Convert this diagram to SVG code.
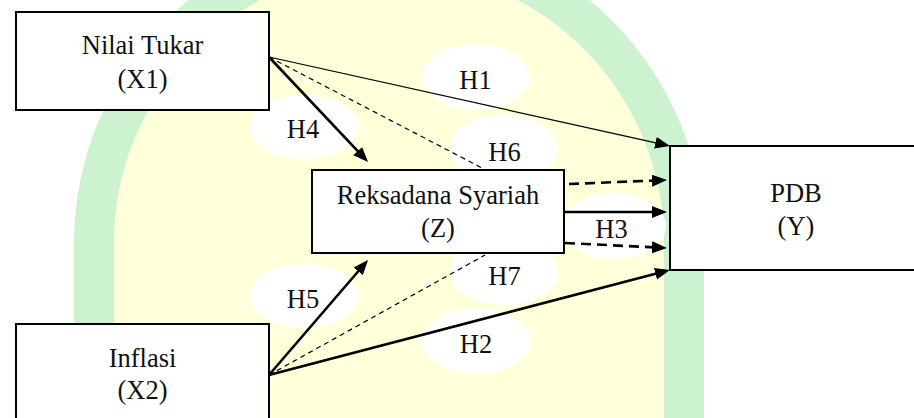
<svg xmlns="http://www.w3.org/2000/svg" width="914" height="418" viewBox="0 0 914 418">
  <style>
    .box { fill: #ffffff; stroke: #000000; stroke-width: 2; }
    .lbl { font-family: "Liberation Serif", "Times New Roman", serif; font-size: 26.5px; fill: #111111; text-anchor: middle; }
    .bubble { fill: #ffffff; }
    .thin { stroke: #000000; stroke-width: 1.2; fill: none; }
    .thick { stroke: #000000; stroke-width: 2.6; fill: none; }
    .dash-thin { stroke: #000000; stroke-width: 1.2; fill: none; stroke-dasharray: 5 4; }
    .dash-thick { stroke: #000000; stroke-width: 2.6; fill: none; stroke-dasharray: 10 6; }
  </style>
  <defs>
    <marker id="head" markerUnits="userSpaceOnUse" markerWidth="16" markerHeight="13" refX="11" refY="6" orient="auto">
      <path d="M0,0 L15,6 L0,12 Z" fill="#000000"/>
    </marker>
  </defs>

  <!-- background emblem -->
  <g id="emblem">
    <rect x="0" y="0" width="914" height="418" fill="#ffffff"/>
    <path d="M74 418 L74 243 A315 315 0 0 1 704 243 L704 418 Z" fill="#ccf2cf"/>
    <path d="M114 418 L114 243 A275 275 0 0 1 664 243 L664 418 Z" fill="#ffffda"/>
  </g>

  <!-- label bubbles -->
  <g id="bubbles">
    <ellipse class="bubble" cx="476" cy="77" rx="54" ry="33"/>
    <ellipse class="bubble" cx="304" cy="127" rx="54" ry="32"/>
    <ellipse class="bubble" cx="504" cy="148" rx="54" ry="33"/>
    <ellipse class="bubble" cx="614" cy="226" rx="52" ry="33"/>
    <ellipse class="bubble" cx="504" cy="272" rx="54" ry="33"/>
    <ellipse class="bubble" cx="304" cy="296" rx="54" ry="32"/>
    <ellipse class="bubble" cx="476" cy="341" rx="54" ry="33"/>
  </g>

  <g id="node-x1">
    <rect class="box" x="16" y="12" width="253" height="98"/>
    <text class="lbl" x="142.5" y="54">Nilai Tukar</text>
    <text class="lbl" x="142.5" y="88">(X1)</text>
  </g>

  <g id="node-x2">
    <rect class="box" x="16" y="324" width="253" height="110"/>
    <text class="lbl" x="142.5" y="367">Inflasi</text>
    <text class="lbl" x="142.5" y="399">(X2)</text>
  </g>

  <g id="node-z">
    <rect class="box" x="312" y="170" width="252" height="83"/>
    <text class="lbl" x="438" y="204">Reksadana Syariah</text>
    <text class="lbl" x="438" y="237">(Z)</text>
  </g>

  <g id="node-y">
    <rect class="box" x="670" y="146" width="253" height="124"/>
    <text class="lbl" x="796" y="202">PDB</text>
    <text class="lbl" x="796" y="235">(Y)</text>
  </g>

  <g id="connectors">
    <line class="thin" x1="269" y1="57" x2="666.1" y2="145.1" marker-end="url(#head)"/>
    <line class="thick" x1="269" y1="57" x2="365.3" y2="159.1" marker-end="url(#head)"/>
    <line class="dash-thin" x1="269" y1="57" x2="484" y2="169"/>
    <line class="dash-thick" x1="569" y1="184" x2="663" y2="180.2" marker-end="url(#head)"/>
    <line class="thick" x1="564" y1="212" x2="663" y2="212" marker-end="url(#head)"/>
    <line class="dash-thick" x1="565" y1="243" x2="663" y2="247.8" marker-end="url(#head)"/>
    <line class="thick" x1="269" y1="375" x2="666.1" y2="271" marker-end="url(#head)"/>
    <line class="thick" x1="269" y1="375" x2="365.4" y2="263" marker-end="url(#head)"/>
    <line class="dash-thin" x1="269" y1="375" x2="485" y2="255"/>
  </g>

  <g id="connector-labels">
    <text class="lbl" x="475.5" y="89">H1</text>
    <text class="lbl" x="303" y="138">H4</text>
    <text class="lbl" x="504.5" y="161">H6</text>
    <text class="lbl" x="611.5" y="238">H3</text>
    <text class="lbl" x="504.5" y="285">H7</text>
    <text class="lbl" x="303" y="308">H5</text>
    <text class="lbl" x="476" y="353">H2</text>
  </g>
</svg>
